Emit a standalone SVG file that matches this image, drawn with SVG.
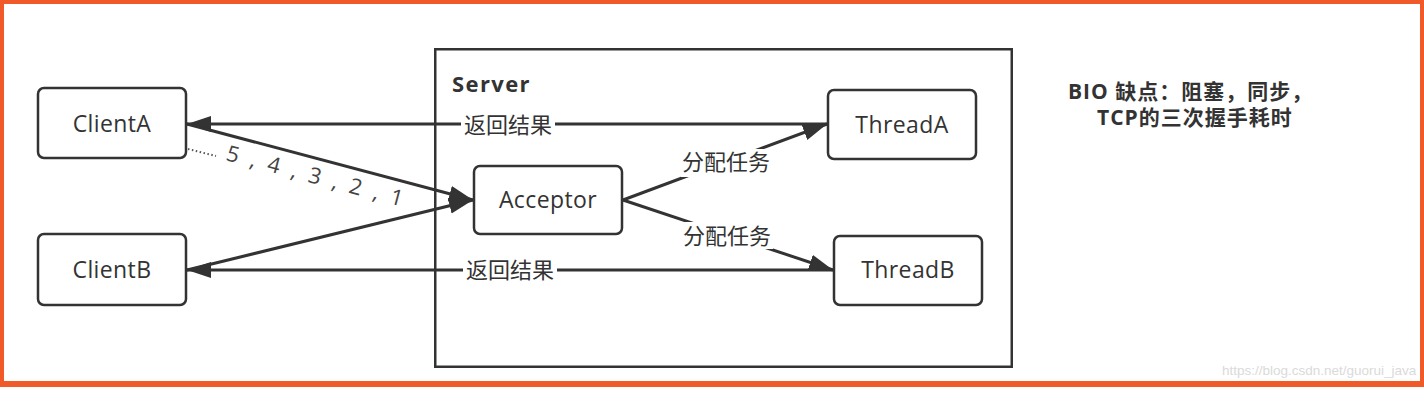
<svg xmlns="http://www.w3.org/2000/svg" width="1424" height="402" viewBox="0 0 1424 402">
<defs>
<style>
.box{fill:#fff;stroke:#333;stroke-width:2.5}
.con{fill:none;stroke:#333;stroke-width:3}
.lbl{font-family:"Open Sans","Noto Sans CJK SC",sans-serif;font-size:23px;letter-spacing:0.4px;fill:#333;text-anchor:middle}
.cn{font-family:"Noto Sans CJK SC",sans-serif;font-size:22px;fill:#333;text-anchor:middle}
.bg{fill:#fff}
.note{font-family:"Open Sans","Noto Sans CJK SC",sans-serif;font-size:21px;font-weight:bold;fill:#333;letter-spacing:1px}
</style>
<marker id="arr" markerUnits="userSpaceOnUse" markerWidth="26" markerHeight="18" refX="24" refY="8" orient="auto">
<path d="M0,0 L24,8 L0,16 z" fill="#333"/>
</marker>
</defs>
<rect x="0" y="0" width="1424" height="402" fill="#fff"/>
<rect x="0" y="0" width="1424" height="387" fill="#F05A28"/>
<rect x="4" y="4" width="1416" height="377" fill="#fff"/>

<g id="server">
<rect x="435.25" y="49.25" width="576.5" height="317.5" fill="none" stroke="#333" stroke-width="2.5"/>
<text x="452" y="92" font-family="'Open Sans',sans-serif" font-size="22" font-weight="bold" fill="#333" letter-spacing="1.4">Server</text>
</g>

<g id="connectors">
<line class="con" x1="827" y1="124" x2="187" y2="124" marker-end="url(#arr)"/>
<line class="con" x1="833" y1="270" x2="187" y2="270" marker-end="url(#arr)"/>
<line class="con" x1="187" y1="124" x2="473" y2="200" marker-end="url(#arr)"/>
<line class="con" x1="187" y1="270" x2="473" y2="200" marker-end="url(#arr)"/>
<line class="con" x1="623" y1="200" x2="827" y2="124" marker-end="url(#arr)"/>
<line class="con" x1="623" y1="200" x2="833" y2="270" marker-end="url(#arr)"/>
<line x1="188" y1="149" x2="216" y2="156" stroke="#555" stroke-width="2" stroke-dasharray="1.5 2.5"/>
<rect class="bg" x="461" y="112" width="94" height="26"/>
<text class="cn" x="508" y="133">返回结果</text>
<rect class="bg" x="463" y="257" width="94" height="26"/>
<text class="cn" x="510" y="278">返回结果</text>
<rect class="bg" x="681" y="149" width="92" height="28"/>
<text class="cn" x="726" y="170">分配任务</text>
<rect class="bg" x="681" y="222" width="92" height="27"/>
<text class="cn" x="727" y="244">分配任务</text>
<text x="225" y="160" transform="rotate(14.8 225 160)" font-family="'Open Sans',sans-serif" font-size="22" fill="#444" textLength="182" lengthAdjust="spacing">5 , 4 , 3 , 2 , 1</text>
</g>

<g id="clientA">
<rect class="box" x="38" y="88" width="148" height="70" rx="6"/>
<text class="lbl" x="112" y="132">ClientA</text>
</g>
<g id="clientB">
<rect class="box" x="38" y="234" width="148" height="71" rx="6"/>
<text class="lbl" x="112" y="278">ClientB</text>
</g>
<g id="acceptor">
<rect class="box" x="474" y="166" width="148" height="68" rx="6"/>
<text class="lbl" x="548" y="208">Acceptor</text>
</g>
<g id="threadA">
<rect class="box" x="828" y="90" width="148" height="69" rx="6"/>
<text class="lbl" x="902" y="133">ThreadA</text>
</g>
<g id="threadB">
<rect class="box" x="834" y="236" width="148" height="69" rx="6"/>
<text class="lbl" x="908" y="278">ThreadB</text>
</g>

<g id="note">
<text class="note" x="1068" y="99">BIO 缺点：阻塞，同步，</text>
<text class="note" x="1097" y="125">TCP的三次握手耗时</text>
</g>
<text x="1222" y="375" font-family="'Liberation Sans',Arial,sans-serif" font-size="13.5" fill="#dadada">https://blog.csdn.net/guorui_java</text>
</svg>
